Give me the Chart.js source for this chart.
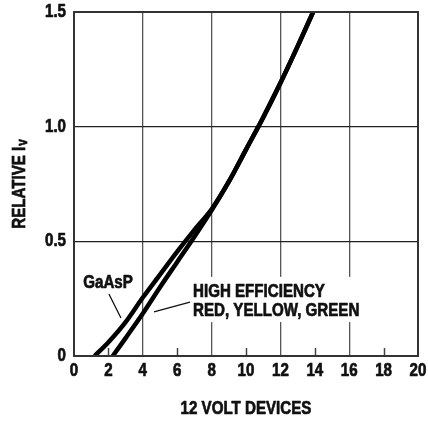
<!DOCTYPE html>
<html>
<head>
<meta charset="utf-8">
<script src="https://cdn.jsdelivr.net/npm/chart.js@4/dist/chart.umd.min.js"></script>
<style>
  html, body { margin: 0; padding: 0; background: #fff; }
  #wrap { width: 428px; height: 424px; }
</style>
</head>
<body>
<div id="wrap"><canvas id="chart" width="428" height="424"></canvas></div>
<script>
// values
const gaaspX = [1.2, 2, 3, 4, 5, 6, 7, 8, 9, 10, 11, 12, 13, 13.9];
const gaaspY = [0, 0.06, 0.148, 0.255, 0.355, 0.455, 0.55, 0.64, 0.76, 0.9, 1.04, 1.19, 1.35, 1.5];
const hiEffX = [2.25, 3, 4, 5, 6, 7, 8, 9, 10, 11, 12, 13, 13.9];
const hiEffY = [0, 0.078, 0.185, 0.3, 0.41, 0.52, 0.635, 0.76, 0.9, 1.04, 1.19, 1.35, 1.5];

const xTicks = [0, 2, 4, 6, 8, 10, 12, 14, 16, 18, 20];
const yTicks = ["0", "0.5", "1.0", "1.5"];
const xGridAt = [4, 8, 12, 16];
const minorTicksAt = [2, 6, 10, 14, 18];

const FONT = '"Liberation Sans", Arial, sans-serif';
const SQUEEZE = 0.84; // the original lettering is a narrow heavy face
const INK = "#111";

const toPoints = (xs, ys) => xs.map((x, i) => ({ x: x, y: ys[i] }));

// draws bold text squeezed horizontally, with a thin outline to make it heavier
function narrowText(ctx, text, x, y, size, align) {
  ctx.save();
  ctx.font = "bold " + size + "px " + FONT;
  ctx.textAlign = align || "left";
  ctx.textBaseline = "middle";
  ctx.fillStyle = INK;
  ctx.strokeStyle = INK;
  ctx.lineWidth = 0.7;
  ctx.lineJoin = "round";
  ctx.translate(x, y);
  ctx.scale(SQUEEZE, 1);
  ctx.fillText(text, 0, 0);
  ctx.strokeText(text, 0, 0);
  ctx.restore();
}

const extras = {
  id: "extras",
  afterDatasetsDraw(chart) {
    const { ctx, scales: { x, y }, chartArea } = chart;
    ctx.save();
    // minor ticks along the bottom
    ctx.strokeStyle = "#444";
    ctx.lineWidth = 1.5;
    minorTicksAt.forEach(v => {
      const px = Math.round(x.getPixelForValue(v)) + 0.5;
      ctx.beginPath();
      ctx.moveTo(px, chartArea.bottom);
      ctx.lineTo(px, chartArea.bottom - 8);
      ctx.stroke();
    });
    // white patch behind the long label
    ctx.fillStyle = "#fff";
    const bx0 = x.getPixelForValue(6.8), bx1 = x.getPixelForValue(16.7);
    const by0 = y.getPixelForValue(0.345), by1 = y.getPixelForValue(0.148);
    ctx.fillRect(bx0, by0, bx1 - bx0, by1 - by0);

    narrowText(ctx, "GaAsP", x.getPixelForValue(1.98), y.getPixelForValue(0.318), 18, "center");
    narrowText(ctx, "HIGH EFFICIENCY", x.getPixelForValue(6.92), y.getPixelForValue(0.281), 18);
    narrowText(ctx, "RED, YELLOW, GREEN", x.getPixelForValue(6.92), y.getPixelForValue(0.196), 18);

    // leader lines
    ctx.strokeStyle = INK;
    ctx.lineWidth = 1.3;
    ctx.beginPath();
    ctx.moveTo(x.getPixelForValue(2.03), y.getPixelForValue(0.27));
    ctx.lineTo(x.getPixelForValue(2.73), y.getPixelForValue(0.166));
    ctx.moveTo(x.getPixelForValue(6.74), y.getPixelForValue(0.235));
    ctx.lineTo(x.getPixelForValue(4.65), y.getPixelForValue(0.192));
    ctx.stroke();

    // plot frame
    ctx.strokeStyle = "#333";
    ctx.lineWidth = 2;
    ctx.strokeRect(chartArea.left, chartArea.top, chartArea.right - chartArea.left, chartArea.bottom - chartArea.top);
    ctx.restore();
  },
  afterDraw(chart) {
    const { ctx, chartArea, scales: { x, y } } = chart;
    ctx.save();
    // tick labels, placed from the scales' own ticks
    x.ticks.forEach((t, i) => {
      narrowText(ctx, String(xTicks[i]), x.getPixelForTick(i), chartArea.bottom + 15, 18, "center");
    });
    y.ticks.forEach((t, i) => {
      narrowText(ctx, yTicks[i], chartArea.left - 8, y.getPixelForTick(i), 18, "right");
    });
    // x axis title
    narrowText(ctx, "12 VOLT DEVICES", (chartArea.left + chartArea.right) / 2, 409, 18, "center");

    // y axis title with subscript
    ctx.translate(20, (chartArea.top + chartArea.bottom) / 2);
    ctx.rotate(-Math.PI / 2);
    const main = "RELATIVE I";
    ctx.font = "bold 18px " + FONT;
    const w1 = ctx.measureText(main).width * SQUEEZE;
    ctx.font = "bold 14px " + FONT;
    const w2 = ctx.measureText("v").width * SQUEEZE;
    const start = -(w1 + w2 + 1) / 2;
    narrowText(ctx, main, start, 0, 18);
    narrowText(ctx, "v", start + w1 + 1, 3, 14);
    ctx.restore();
  }
};

new Chart(document.getElementById("chart"), {
  type: "scatter",
  data: {
    datasets: [
      {
        label: "GaAsP",
        data: toPoints(gaaspX, gaaspY),
        showLine: true,
        borderColor: "#000",
        borderWidth: 4.5,
        pointRadius: 0,
        tension: 0.3
      },
      {
        label: "High efficiency red, yellow, green",
        data: toPoints(hiEffX, hiEffY),
        showLine: true,
        borderColor: "#000",
        borderWidth: 4.5,
        pointRadius: 0,
        tension: 0.3
      }
    ]
  },
  options: {
    responsive: false,
    animation: false,
    devicePixelRatio: 1,
    layout: { padding: { top: 12, right: 10, left: 0, bottom: 0 } },
    plugins: {
      legend: { display: false },
      tooltip: { enabled: false }
    },
    scales: {
      x: {
        type: "linear",
        min: 0,
        max: 20,
        afterBuildTicks: (scale) => { scale.ticks = xTicks.map(v => ({ value: v })); },
        afterFit: (scale) => { scale.height = 68; },
        border: { display: false },
        grid: {
          drawTicks: false,
          lineWidth: 1.3,
          color: (c) => xGridAt.includes(c.tick && c.tick.value) ? "#555" : "rgba(0,0,0,0)"
        },
        ticks: { display: false }
      },
      y: {
        type: "linear",
        min: 0,
        max: 1.5,
        afterBuildTicks: (scale) => { scale.ticks = yTicks.map(v => ({ value: parseFloat(v) })); },
        afterFit: (scale) => { scale.width = 74; },
        border: { display: false },
        grid: {
          drawTicks: false,
          lineWidth: 1.3,
          color: (c) => (c.tick && c.tick.value > 0 && c.tick.value < 1.5) ? "#222" : "rgba(0,0,0,0)"
        },
        ticks: { display: false }
      }
    }
  },
  plugins: [extras]
});
</script>
</body>
</html>
